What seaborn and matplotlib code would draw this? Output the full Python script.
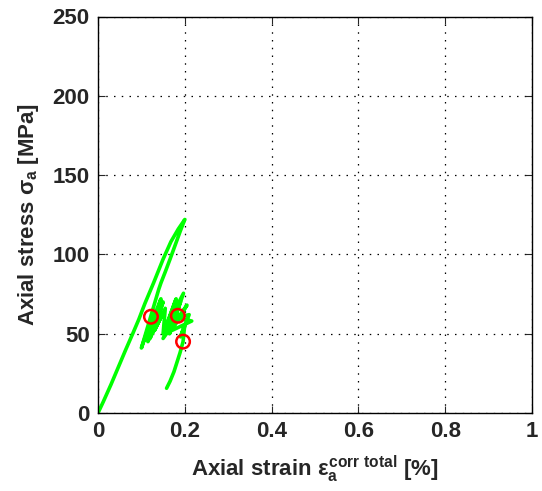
import numpy as np
import pandas as pd
import matplotlib
matplotlib.use('Agg')
import matplotlib.pyplot as plt
import seaborn as sns

# measured curve, axial strain [%] vs axial stress [MPa]
strain = [0.0, 0.012, 0.03, 0.047, 0.064, 0.08, 0.094, 0.108, 0.128, 0.15, 0.168, 0.185, 0.2,
          0.19, 0.178, 0.166, 0.155, 0.145, 0.14,
          0.1, 0.125, 0.108, 0.145, 0.115, 0.14, 0.12, 0.15, 0.125, 0.148, 0.13, 0.155,
          0.15, 0.18, 0.158, 0.197, 0.165, 0.19, 0.15, 0.205, 0.17, 0.216, 0.18, 0.21,
          0.19, 0.2, 0.196,
          0.189, 0.182, 0.175, 0.166, 0.158]
stress = [0.0, 7, 18, 29, 40, 50, 59, 69, 82, 97, 108, 116, 122,
          115, 106, 97, 89, 82, 78,
          41, 60, 46, 72, 45, 62, 47, 70, 50, 62, 52, 66,
          50, 72, 55, 75.5, 50, 70, 47, 68, 52, 58, 60, 62,
          48, 56, 45,
          38, 32, 26, 20, 15.6]

# picked points
peak_strain = [0.122, 0.184, 0.196]
peak_stress = [60.7, 61.3, 45.0]

x_ticks = [0, 0.2, 0.4, 0.6, 0.8, 1]
x_labels = ['0', '0.2', '0.4', '0.6', '0.8', '1']
y_ticks = [0, 50, 100, 150, 200, 250]

sns.set_style('ticks')
plt.rcParams['font.family'] = ['Liberation Sans', 'DejaVu Sans']
plt.rcParams['font.weight'] = 'bold'
plt.rcParams['mathtext.fontset'] = 'custom'
plt.rcParams['mathtext.rm'] = 'Liberation Sans:bold'
plt.rcParams['mathtext.it'] = 'Liberation Sans:bold'
plt.rcParams['mathtext.bf'] = 'Liberation Sans:bold'

curve = pd.DataFrame({'strain': strain, 'stress': stress})
peaks = pd.DataFrame({'strain': peak_strain, 'stress': peak_stress})

fig = plt.figure(figsize=(5.42, 4.91), dpi=100)
ax = fig.add_axes([98 / 542, 1 - 413 / 491, 434 / 542, 396.5 / 491])

sns.lineplot(data=curve, x='strain', y='stress', sort=False, estimator=None,
             color='#00ff00', linewidth=2.6, ax=ax)
sns.scatterplot(data=peaks, x='strain', y='stress', marker='o', s=95,
                facecolor='none', edgecolor='red', linewidth=1.8, ax=ax, zorder=5)

ax.set_xlim(0, 1)
ax.set_ylim(0, 250)
ax.set_xticks(x_ticks)
ax.set_xticklabels(x_labels)
ax.set_yticks(y_ticks)
ax.tick_params(direction='in', length=5, labelsize=16, width=0.8, pad=6, top=True, right=True)
for lab in ax.get_xticklabels() + ax.get_yticklabels():
    lab.set_fontweight('bold')
ax.grid(True, color='black', linestyle=(0, (1.2, 5.0)), linewidth=0.9)
for sp in ax.spines.values():
    sp.set_color('black')
    sp.set_linewidth(1.0)

ax.set_xlabel(r'Axial strain $\varepsilon_a^{corr\ total}$ [%]', fontsize=16, fontweight='bold', labelpad=8)
ax.set_ylabel(r'Axial stress $\sigma_a$ [MPa]', fontsize=16, fontweight='bold', labelpad=8)

fig.savefig('out.png', dpi=100)
